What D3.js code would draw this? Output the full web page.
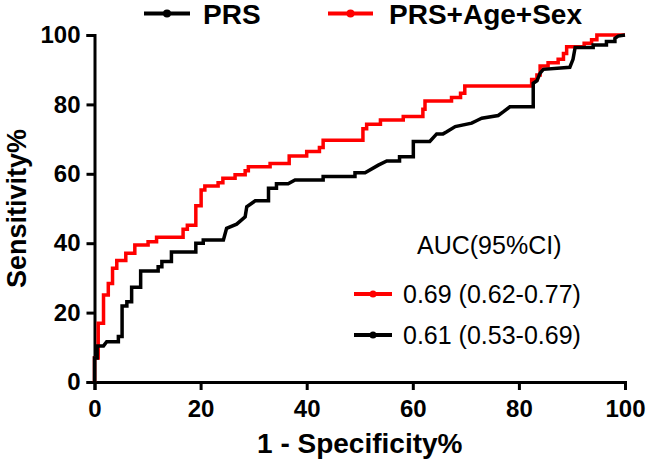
<!DOCTYPE html>
<html>
<head>
<meta charset="utf-8">
<script src="https://cdn.jsdelivr.net/npm/d3@7"></script>
<style>
  html, body { margin: 0; padding: 0; background: #fff; }
  svg { display: block; }
  text { font-family: "Liberation Sans", Arial, sans-serif; }
</style>
</head>
<body>
<div id="chart"></div>
<script>
// ---- data ----
const seriesNames = ["PRS", "PRS+Age+Sex"];
const seriesColors = ["#000000", "#ff0000"];
const aucLabels = ["0.61 (0.53-0.69)", "0.69 (0.62-0.77)"];
const aucTitle = "AUC(95%CI)";
const xTicks = [0, 20, 40, 60, 80, 100];
const yTicks = [0, 20, 40, 60, 80, 100];
const xTitle = "1 - Specificity%";
const yTitle = "Sensitivity%";

// PRS curve vertices (1-specificity %, sensitivity %)
const fprPRS = [0,0,0.5,0.5,1.7,2.3,4.5,4.5,5.2,5.2,6.1,6.1,7.0,7.0,8.7,8.7,12.0,12.0,12.7,12.7,14.5,14.5,19.1,19.1,20.5,20.5,24.3,24.9,26.8,28.4,28.7,30.3,32.8,32.8,34.3,34.3,36.5,37.8,43.1,43.1,49.1,49.1,51.0,53.5,55.1,57.5,57.5,60.1,60.1,63.2,64.5,65.7,66.4,68.0,71.1,72.0,73.0,76.1,77.1,78.3,82.7,82.7,83.4,84.0,84.6,89.6,90.2,90.6,94.0,94.0,96.5,96.5,98.1,98.1,98.7,100];
const tprPRS = [0,6.9,6.9,10.4,10.4,11.6,11.6,13.1,13.1,21.9,21.9,23.1,23.1,27.3,27.3,32.0,32.0,33.2,33.2,34.7,34.7,37.5,37.5,40.0,40.0,40.9,40.9,44.3,45.5,47.6,50.5,52.2,52.2,55.8,55.8,57.1,57.1,58.2,58.2,59.2,59.2,60.3,60.3,62.5,63.7,63.7,64.9,64.9,69.3,69.3,71.5,71.5,72.1,73.6,74.6,75.3,76.0,76.8,77.9,79.3,79.3,86.1,86.8,89.0,90.1,90.7,93.0,96.4,96.4,97.1,97.1,98.1,98.1,99.0,99.7,100];

// PRS+Age+Sex curve vertices
const fprFull = [0,0,0.7,0.7,1.7,1.7,2.6,2.6,3.4,3.4,4.2,4.2,5.9,5.9,7.6,7.6,10.1,10.1,11.7,11.7,16.7,16.7,17.5,17.5,19.1,19.1,20.1,20.1,20.8,20.8,23.3,23.3,24.2,24.2,26.5,26.5,28.4,28.4,29.0,29.0,33.1,33.1,36.7,36.7,40.0,40.0,42.4,42.4,43.1,43.1,50.6,50.6,51.3,51.3,53.9,53.9,58.2,58.2,61.9,61.9,62.3,62.3,67.3,67.3,69.0,69.0,69.8,69.8,82.4,82.4,83.4,83.4,84.0,84.0,85.5,85.5,87.4,87.4,88.4,88.4,89.0,89.0,92.3,92.3,93.7,93.7,94.7,94.7,100];
const tprFull = [0,6.9,6.9,16.9,16.9,25.1,25.1,28.4,28.4,32.8,32.8,35.0,35.0,37.1,37.1,39.5,39.5,40.4,40.4,41.7,41.7,44.0,44.0,45.2,45.2,50.8,50.8,55.3,55.3,56.5,56.5,57.4,57.4,58.7,58.7,59.7,59.7,60.9,60.9,62.0,62.0,63.0,63.0,65.1,65.1,66.4,66.4,67.6,67.6,69.7,69.7,73.0,73.0,74.3,74.3,75.5,75.5,76.5,76.5,78.6,78.6,81.0,81.0,82.0,82.0,83.2,83.2,85.3,85.3,87.2,87.2,88.5,88.5,91.1,91.1,92.0,92.0,93.0,93.0,94.7,94.7,96.6,96.6,97.6,97.6,98.6,98.6,100,100];

// ---- drawing ----
const W = 646, H = 464;
const svg = d3.select("#chart").append("svg").attr("width", W).attr("height", H);
svg.append("rect").attr("width", W).attr("height", H).attr("fill", "#fff");

const x = d3.scaleLinear().domain([0, 100]).range([94.5, 625]);
const y = d3.scaleLinear().domain([0, 100]).range([382, 35]);

const tickFont = "bold 24px 'Liberation Sans', Arial, sans-serif";

const xAxis = svg.append("g")
  .attr("transform", `translate(0,${y(0)})`)
  .call(d3.axisBottom(x).tickValues(xTicks).tickSize(8).tickSizeOuter(8).tickPadding(10).tickFormat(d3.format("d")));
const yAxis = svg.append("g")
  .attr("transform", `translate(${x(0)},0)`)
  .call(d3.axisLeft(y).tickValues(yTicks).tickSize(8).tickSizeOuter(8).tickPadding(6).tickFormat(d3.format("d")));

[xAxis, yAxis].forEach(g => {
  g.select(".domain").attr("stroke", "#000").attr("stroke-width", 3);
  g.selectAll(".tick line").attr("stroke", "#000").attr("stroke-width", 3);
  g.selectAll(".tick text").attr("fill", "#000")
    .style("font", tickFont);
});

// curves
const line = d3.line().x(d => x(d[0])).y(d => y(d[1]));
const curves = [
  { name: seriesNames[1], color: seriesColors[1], pts: d3.zip(fprFull, tprFull) },
  { name: seriesNames[0], color: seriesColors[0], pts: d3.zip(fprPRS, tprPRS) }
];
svg.append("g").selectAll("path").data(curves).join("path")
  .attr("d", d => line(d.pts))
  .attr("fill", "none")
  .attr("stroke", d => d.color)
  .attr("stroke-width", 3.5)
  .attr("stroke-linejoin", "miter");

// axis titles
svg.append("text")
  .attr("x", (x(0) + x(100)) / 2).attr("y", 453)
  .attr("text-anchor", "middle")
  .style("font", "bold 28px 'Liberation Sans', Arial, sans-serif")
  .text(xTitle);
svg.append("text")
  .attr("transform", `translate(26,${(y(0) + y(100)) / 2}) rotate(-90)`)
  .attr("text-anchor", "middle")
  .style("font", "bold 27px 'Liberation Sans', Arial, sans-serif")
  .text(yTitle);

// top legend
const topLeg = [
  { name: seriesNames[0], color: seriesColors[0], x0: 144, x1: 190, tx: 203 },
  { name: seriesNames[1], color: seriesColors[1], x0: 328, x1: 373, tx: 389 }
];
const tl = svg.append("g").selectAll("g").data(topLeg).join("g");
tl.append("line").attr("x1", d => d.x0).attr("x2", d => d.x1).attr("y1", 13.5).attr("y2", 13.5)
  .attr("stroke", d => d.color).attr("stroke-width", 4);
tl.append("circle").attr("cx", d => (d.x0 + d.x1) / 2).attr("cy", 13.5).attr("r", 4).attr("fill", d => d.color);
tl.append("text").attr("x", d => d.tx).attr("y", 24)
  .style("font", "bold 28px 'Liberation Sans', Arial, sans-serif")
  .text(d => d.name);

// AUC legend
svg.append("text").attr("x", 417).attr("y", 254)
  .style("font", "25px 'Liberation Sans', Arial, sans-serif")
  .text(aucTitle);
const aucLeg = [
  { label: aucLabels[1], color: seriesColors[1], cy: 294 },
  { label: aucLabels[0], color: seriesColors[0], cy: 335 }
];
const al = svg.append("g").selectAll("g").data(aucLeg).join("g");
al.append("line").attr("x1", 354).attr("x2", 392).attr("y1", d => d.cy).attr("y2", d => d.cy)
  .attr("stroke", d => d.color).attr("stroke-width", 4);
al.append("circle").attr("cx", 373).attr("cy", d => d.cy).attr("r", 3.5).attr("fill", d => d.color);
al.append("text").attr("x", 403).attr("y", d => d.cy + 9)
  .style("font", "25px 'Liberation Sans', Arial, sans-serif")
  .text(d => d.label);
</script>
</body>
</html>
